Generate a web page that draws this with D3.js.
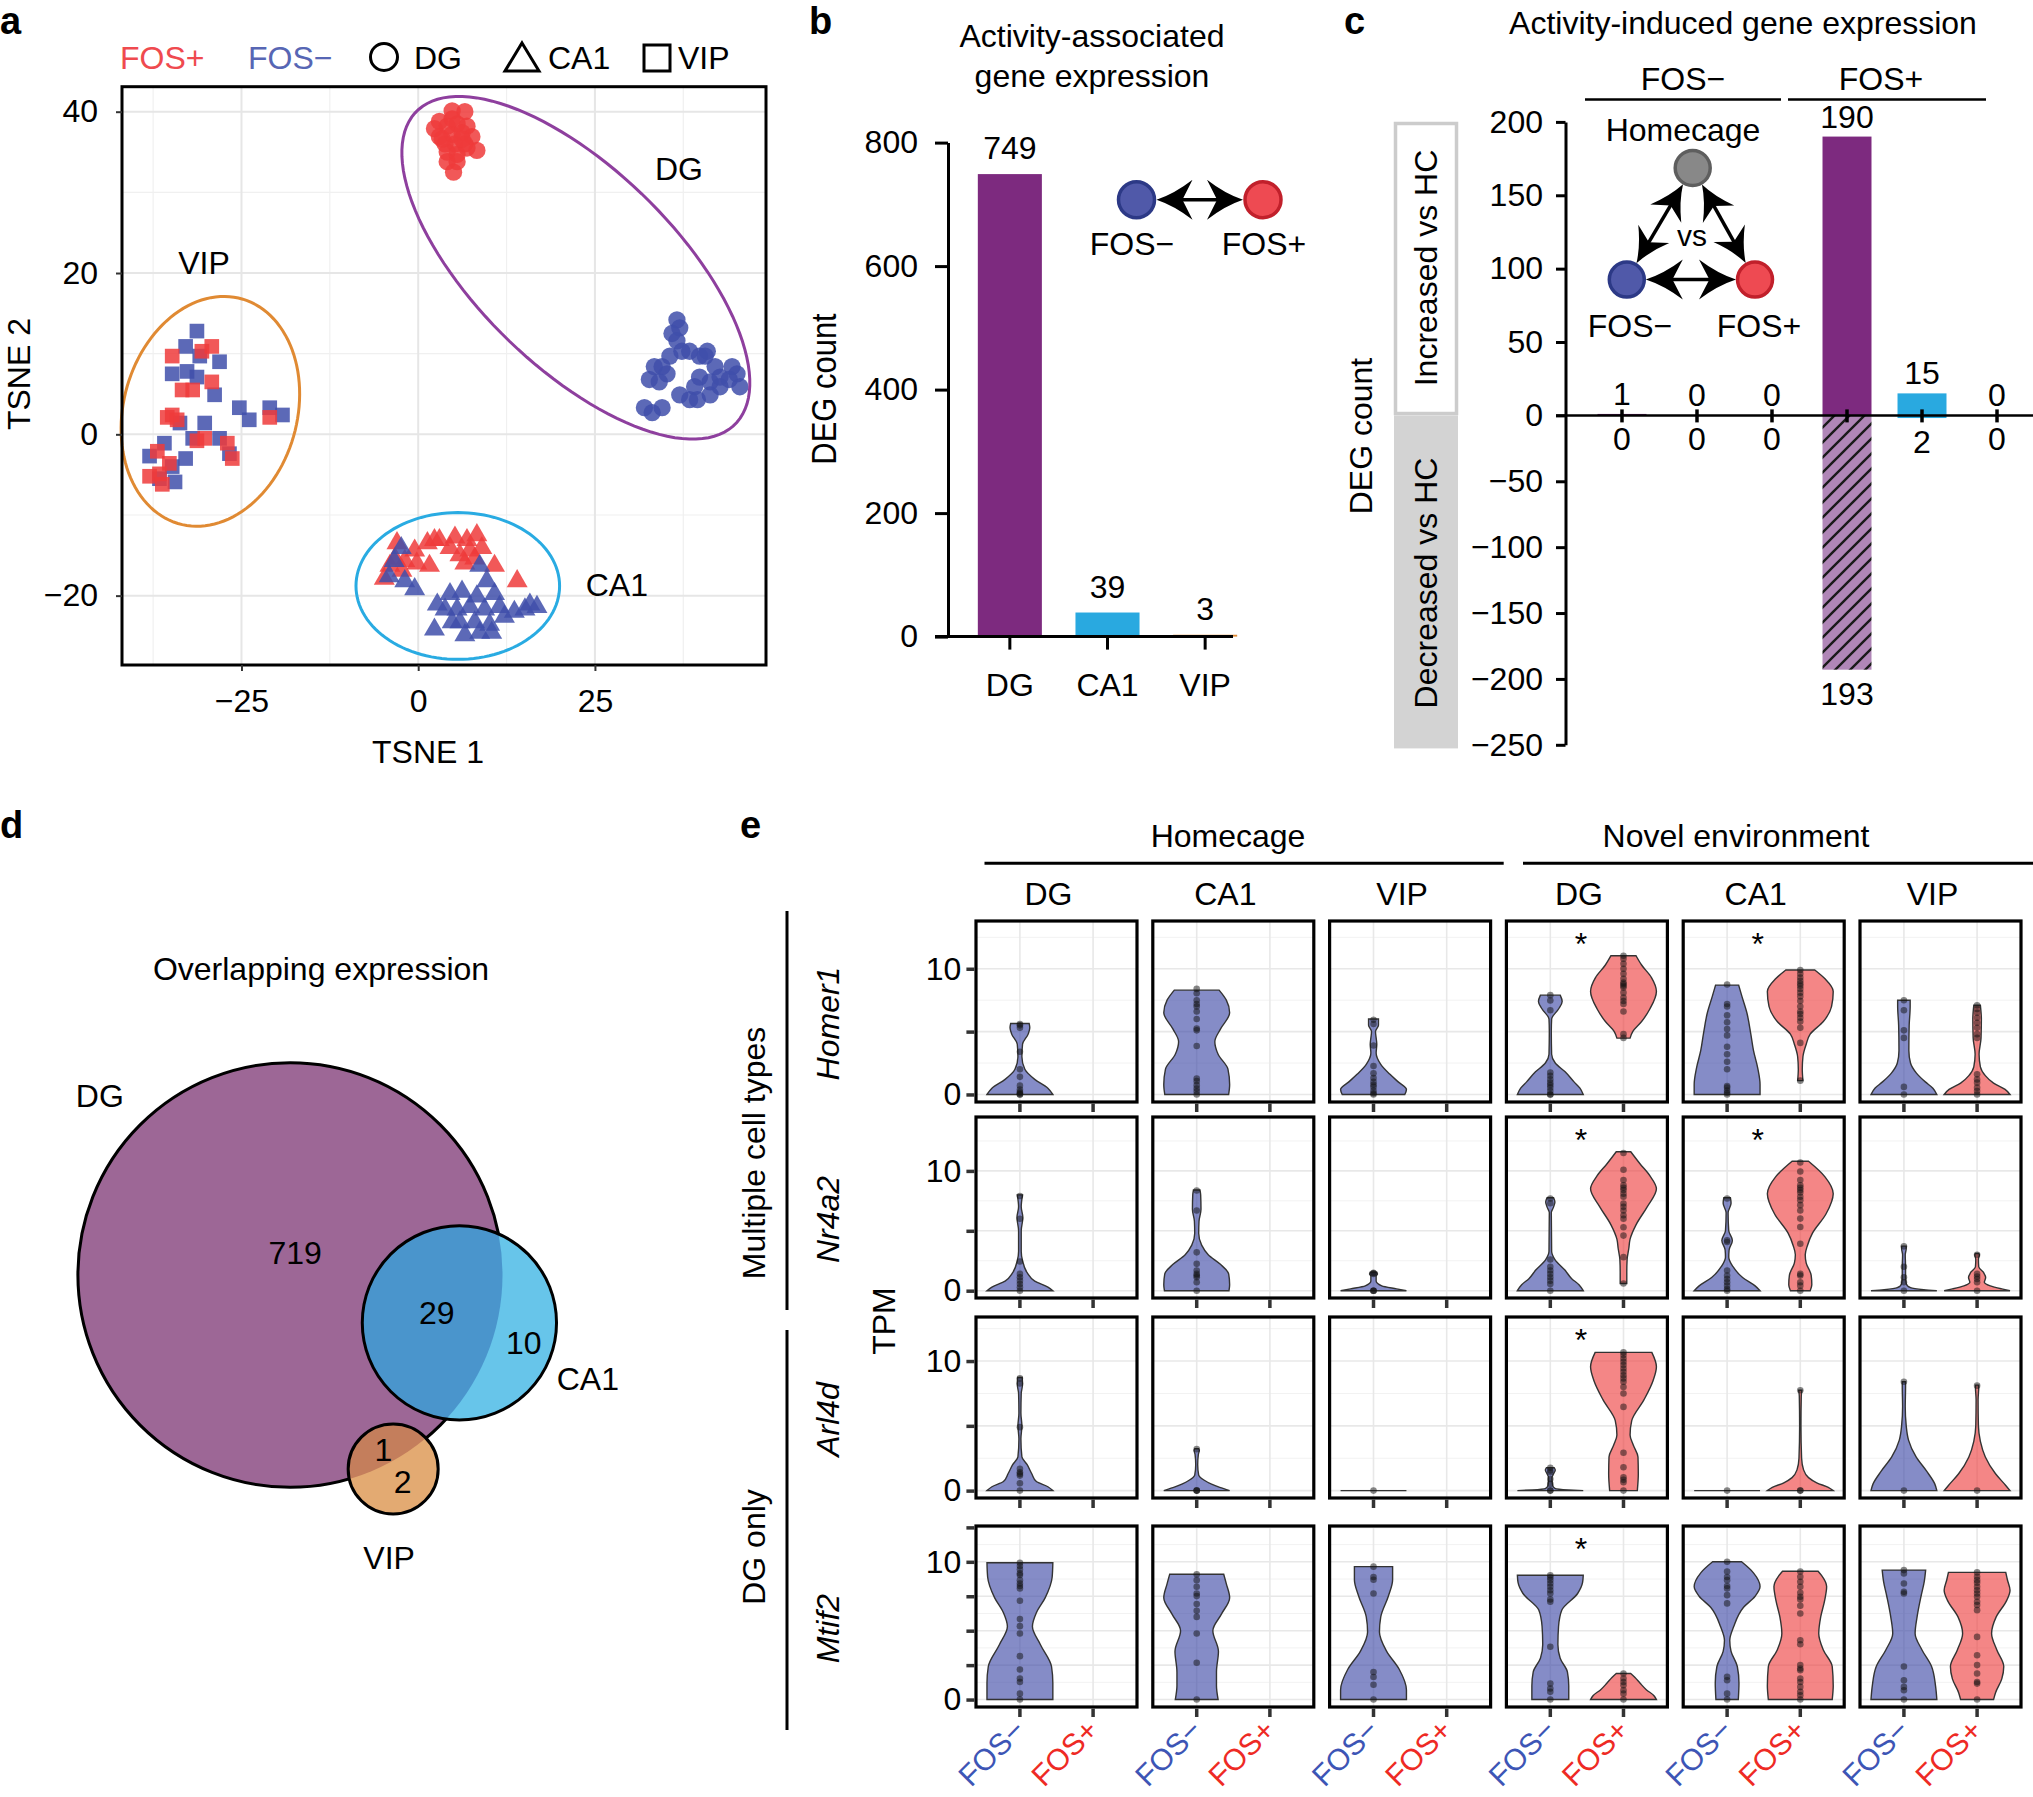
<!DOCTYPE html>
<html>
<head>
<meta charset="UTF-8">
<title>FOS+ / FOS− activity-associated expression</title>
<style>
  body { margin: 0; background: #ffffff; }
  svg { display: block; }
</style>
</head>
<body>
<svg></svg>
<script src="https://d3js.org/d3.v7.min.js"></script>
<script>

// ---------- data ----------
// a: tSNE embedding, [TSNE 1, TSNE 2]
const tsneTicksX = [-25, 0, 25];
const tsneTicksY = [-20, 0, 20, 40];
const dgFosPos = [[3.0,38.8],[4.8,40.1],[6.6,40.0],[2.3,37.9],[4.1,38.2],[5.5,38.5],[6.9,38.2],[3.0,36.9],[4.8,37.2],[6.2,37.4],[7.6,36.9],[3.8,36.0],[5.2,36.0],[6.6,36.0],[8.3,35.2],[4.1,35.0],[5.5,34.7],[6.9,35.5],[4.1,33.8],[5.5,33.8],[5.0,32.5],[3.4,36.6],[6.2,36.6],[4.8,39.1]];
const dgFosNeg = [[36.6,14.2],[37.0,13.2],[35.9,12.5],[36.6,11.6],[37.3,10.3],[38.4,10.3],[39.8,9.7],[40.9,10.3],[42.0,8.4],[42.7,7.1],[41.3,6.5],[39.8,7.1],[39.1,5.9],[37.0,4.9],[38.4,4.3],[41.3,4.9],[42.7,5.9],[44.4,8.4],[45.1,7.5],[45.5,5.9],[44.0,6.8],[32.7,6.8],[33.4,8.4],[34.5,8.4],[35.6,9.7],[35.2,7.5],[34.1,6.5],[32.0,3.3],[33.1,2.7],[34.5,3.3],[39.5,4.3],[40.6,9.7]];
const ca1FosPos = [[-3.0,-13.5],[-0.5,-14.4],[1.3,-13.5],[3.0,-13.1],[5.2,-12.8],[6.9,-13.1],[8.3,-12.5],[9.0,-14.1],[7.3,-14.4],[5.9,-15.0],[4.5,-14.1],[1.6,-16.3],[-0.2,-16.0],[-1.9,-15.7],[-3.3,-15.4],[-4.8,-17.9],[-2.3,-16.9],[6.6,-16.0],[10.8,-16.3],[14.0,-18.2],[8.0,-15.4],[2.3,-13.1],[-4.0,-16.3]];
const ca1FosNeg = [[-2.4,-14.1],[-3.4,-15.7],[-4.1,-17.6],[-1.9,-18.2],[-0.5,-19.2],[2.7,-21.1],[4.5,-19.8],[6.2,-19.5],[8.3,-20.1],[9.7,-18.2],[10.8,-19.8],[11.5,-21.4],[9.4,-21.7],[7.3,-21.4],[5.5,-21.7],[3.8,-21.7],[5.9,-23.3],[8.0,-23.3],[10.1,-23.6],[12.2,-22.6],[13.6,-22.0],[15.8,-21.1],[16.8,-21.4],[2.3,-24.2],[6.6,-24.9],[8.7,-24.6],[10.4,-24.6],[4.8,-23.3],[8.7,-16.3],[15.1,-21.7]];
const vipFosNeg = [[-31.3,12.8],[-32.9,10.9],[-30.9,9.7],[-34.8,7.5],[-32.7,7.8],[-28.1,9.0],[-31.3,7.1],[-28.8,4.9],[-25.3,3.3],[-23.9,1.8],[-21.0,3.3],[-19.2,2.4],[-30.2,1.4],[-28.1,-0.5],[-33.7,1.4],[-31.9,-0.5],[-35.9,-1.1],[-38.0,-2.7],[-34.8,-4.0],[-32.9,-3.0],[-34.4,-5.9],[-36.6,-5.5],[-26.7,-2.4]];
const vipFosPos = [[-34.8,9.7],[-29.2,10.9],[-30.6,10.3],[-31.9,5.5],[-33.4,5.5],[-34.8,2.4],[-35.5,2.1],[-29.2,6.5],[-34.1,1.8],[-21.0,2.1],[-31.3,-0.8],[-27.0,-1.1],[-26.3,-3.0],[-36.9,-2.1],[-36.6,-4.9],[-35.2,-3.6],[-38.0,-5.2],[-36.2,-6.2],[-30.2,-0.5]];
// cluster ellipses: centre, semi-axes (data units), angle of first axis (deg)
const ellipseNames = ["DG", "VIP", "CA1"];
const ellipseCentre = [[22.3, 20.65], [-29.4, 2.85], [5.6, -18.8]];
const ellipseAxes = [[29.8, 13.0], [14.7, 12.1], [14.4, 9.1]];
const ellipseAngle = [-38.8, 64.3, 0];
const ellipseLabelAt = [[33.5, 31.5], [-30.3, 19.9], [23.7, -20.1]];

// b: activity-associated DEG counts
const cellTypes = ["DG", "CA1", "VIP"];
const assocCounts = [749, 39, 3];
const assocTicks = [0, 200, 400, 600, 800];

// c: activity-induced DEG counts vs homecage
const inducedGroups = ["FOS−", "FOS+"];
const inducedKeys = ["FOS−DG", "FOS−CA1", "FOS−VIP", "FOS+DG", "FOS+CA1", "FOS+VIP"];
const inducedUp = [1, 0, 0, 190, 15, 0];
const inducedDown = [0, 0, 0, 193, 2, 0];
const inducedTicks = [-250, -200, -150, -100, -50, 0, 50, 100, 150, 200];

// d: overlap of DEG sets
const vennSets = ["DG", "CA1", "VIP"];
const vennCentre = [[0, 0], [0.797, 0.2255], [0.485, 0.915]];
const vennRadius = [1, 0.4575, 0.212];
const vennRegionCounts = [719, 29, 10, 1, 2];
const vennRegionAt = [[0.023, -0.108], [0.69, 0.175], [1.10, 0.318], [0.439, 0.821], [0.53, 0.976]];
const vennSetLabelAt = [[-0.897, -0.849], [1.402, 0.49], [0.466, 1.334]];

// e: TPM violins. panels: HC DG, HC CA1, HC VIP, NE DG, NE CA1, NE VIP; each [FOS−, FOS+]
// outline = [TPM, half-width relative to max]
const genes = ["Homer1", "Nr4a2", "Arl4d", "Mtif2"];
const conditions = ["Homecage", "Novel environment"];
const fosGroups = ["FOS−", "FOS+"];
const homer1Violins = [
  [[[0,1.0],[0.5,0.85],[1.2,0.45],[2,0.15],[3,0.06],[4,0.08],[4.8,0.25],[5.3,0.3],[5.65,0.28]], null],
  [[[0,0.97],[0.8,1.0],[2.0,0.95],[3.2,0.65],[4.2,0.55],[5.2,0.72],[6.5,1.0],[7.5,0.9],[8.3,0.68]], null],
  [[[0,0.95],[0.4,1.0],[1.0,0.75],[1.6,0.5],[2.4,0.22],[3.3,0.08],[4.0,0.1],[4.5,0.08],[5.0,0.06],[5.5,0.15],[6.0,0.15]], null],
  [[[0,1.0],[0.5,0.9],[1.0,0.72],[1.8,0.45],[2.5,0.15],[3.2,0.04],[5.0,0.03],[6.0,0.04],[6.8,0.25],[7.4,0.36],[7.9,0.3]],
   [[4.48,0.2],[5.0,0.28],[5.8,0.55],[6.8,0.8],[8.2,1.0],[9.3,0.85],[10.3,0.55],[11.04,0.38]]],
  [[[0,1.0],[0.8,1.0],[2.1,0.93],[3.5,0.8],[4.8,0.72],[6.5,0.6],[7.8,0.45],[8.7,0.35]],
   [[1.1,0.08],[2.0,0.06],[3.0,0.08],[4.0,0.18],[4.8,0.3],[5.8,0.7],[7.0,0.95],[8.2,1.0],[9.2,0.75],[9.9,0.44]]],
  [[[0,1.0],[0.5,0.88],[1.0,0.65],[1.7,0.38],[2.5,0.2],[3.5,0.15],[5.5,0.16],[7.0,0.19],[7.5,0.19]],
   [[0,1.0],[0.4,0.85],[0.9,0.5],[1.5,0.25],[2.2,0.1],[3.2,0.06],[4.5,0.12],[6.0,0.13],[7.1,0.1]]]
];
const homer1Dots = [
  [[5.6,5.5,5.3,3.4,2.0,1.4,0.7,0.4,0.2,0.1,0,0], []],
  [[8.4,8.05,7.5,7.2,7.0,6.6,6.0,5.25,5.1,3.86,1.27,1.06,0.74,0.47,0.26,0], []],
  [[5.94,5.6,3.9,2.26,1.68,1.3,1.0,0.77,0.6,0.3,0.1,0], []],
  [[7.9,7.47,6.7,1.75,1.48,1.2,0.94,0.75,0.54,0.27,0,0], [11.04,10.8,10.4,10.0,9.6,9.2,8.9,8.78,8.65,8.5,8.1,7.7,7.44,7.2,6.6,4.8,4.5]],
  [[8.75,7.2,7.0,6.3,5.74,5.2,4.7,3.8,3.2,2.6,2.0,0.67,0.54,0.32,0.13,0], [9.9,9.6,9.3,9.04,8.83,8.65,8.4,8.1,7.8,7.44,7.0,6.6,6.4,6.1,5.8,5.3,4.1,1.1]],
  [[7.5,6.7,5.1,4.5,0.6,0], [7.1,6.8,6.5,6.1,5.7,5.3,4.8,4.5,1.6,1.2,0.94,0.54,0.27,0]]
];
const nr4a2Violins = [
  [[[0,1.0],[0.3,0.85],[0.8,0.45],[1.5,0.22],[2.5,0.08],[3.3,0.04],[5.0,0.04],[6.1,0.09],[7.0,0.04],[8.0,0.08]], null],
  [[[0,0.98],[0.5,1.0],[1.4,0.97],[2.2,0.72],[3.0,0.35],[3.8,0.15],[4.8,0.06],[5.8,0.07],[6.8,0.13],[8.0,0.12],[8.4,0.1]], null],
  [[[0,1.0],[0.15,0.7],[0.4,0.25],[0.8,0.08],[1.2,0.08],[1.4,0.12],[1.55,0.1]], null],
  [[[0,1.0],[0.5,0.87],[1.0,0.65],[1.7,0.45],[2.6,0.14],[3.3,0.04],[6.5,0.03],[7.0,0.1],[7.4,0.14],[7.76,0.1]],
   [[0.6,0.1],[1.5,0.1],[2.6,0.11],[3.5,0.16],[4.3,0.2],[5.5,0.38],[7.0,0.72],[8.5,1.0],[9.6,0.8],[10.6,0.5],[11.6,0.22]]],
  [[[0,1.0],[0.4,0.85],[1.1,0.47],[2.0,0.18],[2.8,0.05],[3.4,0.06],[4.2,0.16],[5.0,0.05],[6.5,0.03],[7.3,0.12],[7.76,0.1]],
   [[0,0.3],[0.5,0.35],[1.3,0.33],[2.3,0.18],[3.0,0.15],[3.8,0.22],[4.8,0.37],[6.4,0.78],[8.1,1.0],[9.5,0.75],[10.8,0.25]]],
  [[[0,1.0],[0.08,0.6],[0.25,0.2],[0.6,0.07],[1.2,0.05],[2.0,0.05],[3.0,0.04],[3.5,0.07],[3.72,0.07]],
   [[0,1.0],[0.15,0.75],[0.4,0.4],[0.7,0.22],[1.1,0.26],[1.5,0.2],[2.0,0.05],[2.6,0.04],[3.0,0.07],[3.1,0.05]]]
];
const nr4a2Dots = [
  [[7.9,6.0,2.44,1.4,1.12,0.84,0.56,0.28,0], []],
  [[8.36,6.7,3.2,2.24,1.68,1.4,1.26,1.12,0.7,0], []],
  [[1.5,1.45,1.4,0,0,0], []],
  [[7.7,7.3,2.6,2.0,1.68,1.4,1.12,0.84,0.56,0], [11.49,10.1,9.24,8.8,8.6,8.4,8.1,7.84,7.28,7.0,6.7,6.3,6.0,5.3,4.6,2.8,0.6]],
  [[7.7,4.2,4.06,1.68,1.26,0.98,0.7,0.42,0.14,0], [10.7,9.95,9.24,8.8,8.6,8.4,8.2,7.84,7.56,7.14,6.7,6.02,5.32,3.92,1.4,1.26,0.7,0.42,0]],
  [[3.7,2.0,1.12,0.7,0], [3.0,1.4,1.18,0.98,0.7,0]]
];
const arl4dViolins = [
  [[[0,1.0],[0.3,0.85],[0.7,0.5],[1.3,0.36],[2.0,0.22],[2.6,0.06],[4.0,0.03],[5.0,0.06],[6.0,0.03],[7.5,0.04],[8.2,0.08],[8.73,0.07]], null],
  [[[0,1.0],[0.25,0.7],[0.5,0.45],[0.8,0.23],[1.2,0.06],[2.0,0.03],[2.8,0.05],[3.1,0.08],[3.23,0.06]], null],
  [[[0,1],[0,1]], null],
  [[[0,1.0],[0.05,0.55],[0.15,0.15],[0.4,0.07],[1.0,0.05],[1.3,0.1],[1.6,0.15],[1.76,0.12]],
   [[0,0.42],[1.3,0.45],[2.6,0.44],[3.5,0.3],[4.3,0.2],[5.4,0.25],[7.0,0.62],[8.5,0.9],[9.56,1.0],[10.67,0.86]]],
  [[[0,1],[0,1]],
   [[0,1.0],[0.25,0.85],[0.6,0.5],[1.0,0.25],[1.6,0.1],[2.5,0.04],[5.0,0.02],[7.3,0.03],[7.75,0.05]]],
  [[[0,1.0],[0.5,0.94],[1.5,0.69],[2.6,0.37],[3.9,0.14],[5.0,0.07],[6.5,0.04],[8.0,0.05],[8.4,0.05]],
   [[0,1.0],[0.4,0.87],[1.3,0.56],[2.6,0.25],[3.8,0.1],[5.0,0.04],[7.0,0.03],[8.0,0.05],[8.14,0.05]]]
];
const arl4dDots = [
  [[8.66,8.27,4.9,1.68,1.42,1.29,1.16,0.57,0], []],
  [[3.2,0,0,0], []],
  [[0], []],
  [[1.76,1.55,1.42,0.9,0.52,0,0], [10.67,10.47,10.2,9.95,9.69,9.43,9.17,8.9,8.66,8.4,8.0,7.5,6.46,2.92,1.8,1.03,0.83,0.65,0]],
  [[0], [7.75,0,0]],
  [[8.4,0], [8.1,0]]
];
const mtif2Violins = [
  [[[0,1.0],[1.2,1.0],[2.4,0.96],[4.0,0.62],[5.3,0.38],[6.3,0.5],[7.4,0.77],[8.9,0.98],[9.93,1.0]], null],
  [[[0,0.65],[1.0,0.6],[2.0,0.6],[3.5,0.66],[5.0,0.49],[6.2,0.75],[7.4,1.0],[8.4,0.9],[9.1,0.82]], null],
  [[[0,1.0],[0.7,1.0],[2.2,0.78],[3.5,0.4],[4.9,0.18],[6.0,0.22],[7.5,0.45],[8.7,0.58],[9.65,0.58]], null],
  [[[0,0.56],[1.0,0.56],[2.0,0.52],[3.0,0.3],[4.0,0.23],[5.3,0.25],[6.5,0.35],[7.7,0.83],[8.5,0.98],[9.03,1.0]],
   [[0,1.0],[0.3,0.92],[0.7,0.7],[1.2,0.5],[1.6,0.35],[1.89,0.22]]],
  [[[0,0.34],[1.2,0.36],[2.4,0.31],[3.5,0.12],[4.3,0.08],[5.3,0.2],[6.7,0.5],[7.5,0.85],[8.2,1.0],[9.2,0.8],[10.0,0.44]],
   [[0,0.97],[1.0,1.0],[2.4,0.97],[3.6,0.7],[4.8,0.56],[6.0,0.62],[7.2,0.74],[8.2,0.8],[9.0,0.65],[9.32,0.54]]],
  [[[0,1.0],[1.0,0.96],[2.4,0.84],[3.6,0.55],[4.8,0.34],[6.0,0.4],[7.5,0.52],[8.6,0.62],[9.4,0.66]],
   [[0,0.5],[0.5,0.56],[1.5,0.75],[2.4,0.81],[3.6,0.6],[4.8,0.44],[6.0,0.58],[7.2,0.9],[7.94,1.0],[8.7,0.92],[9.23,0.87]]]
];
const mtif2Dots = [
  [[9.93,9.69,9.45,9.16,9.04,8.67,8.43,8.24,8.07,7.17,5.84,5.33,4.8,3.15,2.18,1.53,1.28,0.43,0], []],
  [[9.1,8.67,8.19,7.7,7.51,6.93,6.44,6.0,4.8,2.67,0], []],
  [[9.65,8.9,8.7,7.7,2.0,1.64,1.07,0], []],
  [[9.03,8.86,8.67,8.43,8.19,7.94,7.7,7.27,7.1,3.83,1.16,0.8,0.56,0], [1.89,1.53,1.28,1.04,0.68,0.43,0]],
  [[10.0,9.3,8.9,8.67,8.24,8.07,7.58,6.98,1.65,1.4,0.43,0], [9.3,8.91,8.55,8.19,7.75,7.46,7.27,6.81,6.25,4.31,4.02,2.5,2.25,2.13,1.53,1.28,0.92,0.56,0.31,0]],
  [[9.4,9.16,8.43,7.82,7.7,2.4,1.4,0.92,0.68,0], [9.23,8.91,8.67,8.48,8.19,7.94,7.7,7.46,7.1,6.86,6.49,4.55,3.22,2.5,1.89,1.28,1.16,0]]
];
const tpmDomains = [[-0.6, 13.8], [-0.61, 14.5], [-0.57, 13.4], [-0.54, 12.6]];
const tpmTicks = [[0, 5, 10], [0, 5, 10], [0, 5, 10], [0, 2.5, 5, 7.5, 10, 12.5]];
const tpmLabelled = [0, 10];
const signifPanels = [[3, 4], [3, 4], [3], [3]];

// ---------- setup ----------
const W = 2033, H = 1797;
const FONT = "'Liberation Sans', Arial, Helvetica, sans-serif";
const FS = 32;
const RED = "#ee3b3b", BLUE = "#3f4faa";
const PURPLE = "#7d2a7f", SKY = "#29a9e0";

const svg = d3.select("svg")
    .attr("width", W).attr("height", H)
    .attr("viewBox", "0 0 " + W + " " + H)
    .style("font-family", FONT);
svg.append("rect").attr("width", W).attr("height", H).attr("fill", "#fff");

function txt(g, x, y, s, opts) {
  opts = opts || {};
  const t = g.append("text").attr("x", x).attr("y", y).text(s)
    .attr("font-size", opts.size || FS)
    .attr("text-anchor", opts.anchor || "start")
    .attr("fill", opts.fill || "#000");
  if (opts.weight) t.attr("font-weight", opts.weight);
  if (opts.style) t.attr("font-style", opts.style);
  if (opts.dy) t.attr("dy", opts.dy);
  return t;
}
function vtxt(g, x, y, s, opts) {
  opts = opts || {};
  const sx = opts.squeeze || 1;
  const gg = g.append("g").attr("transform", "translate(" + x + "," + y + ") rotate(-90) scale(" + sx + ",1)");
  txt(gg, 0, 0, s, Object.assign({anchor: "middle"}, opts));
}

// panel letters
[["a", 0, 34], ["b", 809, 34], ["c", 1344, 34], ["d", 0, 838], ["e", 740, 838]].forEach(l =>
  txt(svg, l[1], l[2], l[0], {size: 38, weight: "bold"}));

// arrows for the little schematic insets
function arrowHead(g, tip, ux, uy, L, Wd) {
  const px = -uy, py = ux;
  const bx = tip[0] - ux * L, by = tip[1] - uy * L;
  const nx = tip[0] - ux * L * 0.72, ny = tip[1] - uy * L * 0.72;
  const p = d3.path();
  p.moveTo(tip[0], tip[1]);
  p.quadraticCurveTo(tip[0] - ux * L * 0.5 + px * Wd * 0.3, tip[1] - uy * L * 0.5 + py * Wd * 0.3, bx + px * Wd, by + py * Wd);
  p.lineTo(nx, ny);
  p.lineTo(bx - px * Wd, by - py * Wd);
  p.quadraticCurveTo(tip[0] - ux * L * 0.5 - px * Wd * 0.3, tip[1] - uy * L * 0.5 - py * Wd * 0.3, tip[0], tip[1]);
  p.closePath();
  g.append("path").attr("d", p.toString()).attr("fill", "#000");
}
function doubleArrow(g, a, b, r, L, Wd) {
  const dx = b[0] - a[0], dy = b[1] - a[1], d = Math.hypot(dx, dy), ux = dx / d, uy = dy / d;
  const t1 = [a[0] + ux * r, a[1] + uy * r], t2 = [b[0] - ux * r, b[1] - uy * r];
  g.append("line")
    .attr("x1", t1[0] + ux * L * 0.6).attr("y1", t1[1] + uy * L * 0.6)
    .attr("x2", t2[0] - ux * L * 0.6).attr("y2", t2[1] - uy * L * 0.6)
    .attr("stroke", "#000").attr("stroke-width", 3.5);
  arrowHead(g, t2, ux, uy, L, Wd);
  arrowHead(g, t1, -ux, -uy, L, Wd);
}
function node(g, c, r, fill, stroke) {
  g.append("circle").attr("cx", c[0]).attr("cy", c[1]).attr("r", r)
    .attr("fill", fill).attr("stroke", stroke).attr("stroke-width", 3.5);
}

// ---------- a: tSNE ----------
const ga = svg.append("g");
const xA = d3.scaleLinear().domain([-41.9, 49.2]).range([122, 766]);
const yA = d3.scaleLinear().domain([-28.6, 43.1]).range([665, 86.7]);

const minorX = tsneTicksX.map(v => v - 12.5).concat([tsneTicksX[tsneTicksX.length - 1] + 12.5]);
const minorY = tsneTicksY.map(v => v - 10).filter(v => v > yA.domain()[0]);
ga.selectAll(".gxm").data(minorX).enter().append("line")
  .attr("x1", d => xA(d)).attr("x2", d => xA(d)).attr("y1", yA.range()[0]).attr("y2", yA.range()[1])
  .attr("stroke", "#f0f0f0").attr("stroke-width", 1.2);
ga.selectAll(".gym").data(minorY).enter().append("line")
  .attr("y1", d => yA(d)).attr("y2", d => yA(d)).attr("x1", xA.range()[0]).attr("x2", xA.range()[1])
  .attr("stroke", "#f0f0f0").attr("stroke-width", 1.2);
ga.selectAll(".gx").data(tsneTicksX).enter().append("line")
  .attr("x1", d => xA(d)).attr("x2", d => xA(d)).attr("y1", yA.range()[0]).attr("y2", yA.range()[1])
  .attr("stroke", "#e6e6e6").attr("stroke-width", 2);
ga.selectAll(".gy").data(tsneTicksY).enter().append("line")
  .attr("y1", d => yA(d)).attr("y2", d => yA(d)).attr("x1", xA.range()[0]).attr("x2", xA.range()[1])
  .attr("stroke", "#e6e6e6").attr("stroke-width", 2);

const symCircle = d3.symbol().type(d3.symbolCircle).size(235);
const symTri = d3.symbol().type(d3.symbolTriangle).size(190);
const symSq = d3.symbol().type(d3.symbolSquare).size(215);
function scatter(pts, sym, col) {
  ga.append("g").selectAll("path").data(pts).enter().append("path")
    .attr("d", sym)
    .attr("transform", d => "translate(" + xA(d[0]) + "," + yA(d[1]) + ")")
    .attr("fill", col).attr("fill-opacity", 0.85);
}
scatter(dgFosPos, symCircle, RED);
scatter(dgFosNeg, symCircle, BLUE);
scatter(ca1FosPos, symTri, RED);
scatter(ca1FosNeg, symTri, BLUE);
scatter(vipFosNeg, symSq, BLUE);
scatter(vipFosPos, symSq, RED);

const ellipseColours = ["#8e3f9e", "#e08a33", "#29abe2"];
ellipseNames.forEach((n, i) => {
  const [cx, cy] = ellipseCentre[i], [ea, eb] = ellipseAxes[i];
  const ang = ellipseAngle[i] * Math.PI / 180;
  const pts = d3.range(0, 361, 3).map(t => {
    const r = t * Math.PI / 180;
    return [cx + ea * Math.cos(r) * Math.cos(ang) - eb * Math.sin(r) * Math.sin(ang),
            cy + ea * Math.cos(r) * Math.sin(ang) + eb * Math.sin(r) * Math.cos(ang)];
  });
  ga.append("path").attr("d", d3.line().x(d => xA(d[0])).y(d => yA(d[1]))(pts))
    .attr("fill", "none").attr("stroke", ellipseColours[i]).attr("stroke-width", 3);
  txt(ga, xA(ellipseLabelAt[i][0]), yA(ellipseLabelAt[i][1]), n, {anchor: n === "VIP" ? "middle" : "start"});
});

ga.append("rect").attr("x", 122).attr("y", 86.7).attr("width", 644).attr("height", 578.3)
  .attr("fill", "none").attr("stroke", "#000").attr("stroke-width", 3);

const axA1 = ga.append("g").attr("transform", "translate(0,665)")
  .call(d3.axisBottom(xA).tickValues(tsneTicksX).tickSize(6).tickPadding(18).tickSizeOuter(0));
const axA2 = ga.append("g").attr("transform", "translate(122,0)")
  .call(d3.axisLeft(yA).tickValues(tsneTicksY).tickSize(6).tickPadding(18).tickSizeOuter(0));
[axA1, axA2].forEach(ax => {
  ax.select(".domain").remove();
  ax.selectAll("line").attr("stroke", "#333").attr("stroke-width", 2);
  ax.selectAll("text").attr("font-size", FS).attr("font-family", FONT).attr("fill", "#000");
});
txt(ga, 428, 763, "TSNE 1", {anchor: "middle"});
vtxt(ga, 30, 374, "TSNE 2");

// legend
txt(ga, 120, 69, "FOS+", {fill: "#ef4a4f"});
txt(ga, 248, 69, "FOS−", {fill: "#5766b4"});
ga.append("circle").attr("cx", 384).attr("cy", 57).attr("r", 13.5).attr("fill", "none").attr("stroke", "#000").attr("stroke-width", 3);
txt(ga, 414, 69, "DG");
ga.append("path").attr("d", "M522,43L539,71L505,71Z").attr("fill", "none").attr("stroke", "#000").attr("stroke-width", 3).attr("stroke-linejoin", "miter");
txt(ga, 548, 69, "CA1");
ga.append("rect").attr("x", 644).attr("y", 45).attr("width", 26).attr("height", 26).attr("fill", "none").attr("stroke", "#000").attr("stroke-width", 3);
txt(ga, 678, 69, "VIP");

// ---------- b: activity-associated ----------
const gb = svg.append("g");
const yB = d3.scaleLinear().domain([0, 800]).range([636.6, 142.6]);
const xB = d3.scaleBand().domain(cellTypes).range([929, 1286]).paddingInner(0.344).paddingOuter(0.5);
const bColours = {DG: PURPLE, CA1: SKY, VIP: "#e08a33"};

txt(gb, 1092, 47, "Activity-associated", {anchor: "middle"});
txt(gb, 1092, 87, "gene expression", {anchor: "middle"});

gb.selectAll(".bar").data(cellTypes).enter().append("rect")
  .attr("x", d => xB(d)).attr("width", xB.bandwidth())
  .attr("y", (d, i) => yB(assocCounts[i]))
  .attr("height", (d, i) => yB(0) - yB(assocCounts[i]))
  .attr("fill", d => bColours[d]);
gb.selectAll(".val").data(cellTypes).enter().append("text")
  .attr("x", d => xB(d) + xB.bandwidth() / 2)
  .attr("y", (d, i) => yB(assocCounts[i]) - 15)
  .attr("text-anchor", "middle").attr("font-size", FS)
  .text((d, i) => assocCounts[i]);

const axB = gb.append("g").attr("transform", "translate(948,0)")
  .call(d3.axisLeft(yB).tickValues(assocTicks).tickSize(13).tickPadding(17).tickSizeOuter(0));
axB.select(".domain").attr("stroke", "#000").attr("stroke-width", 3);
axB.selectAll("line").attr("stroke", "#000").attr("stroke-width", 3);
axB.selectAll("text").attr("font-size", FS).attr("font-family", FONT).attr("fill", "#000");
gb.append("line").attr("x1", 935).attr("x2", 1233).attr("y1", yB(0)).attr("y2", yB(0))
  .attr("stroke", "#000").attr("stroke-width", 3);
const axBx = gb.append("g").attr("transform", "translate(0," + yB(0) + ")")
  .call(d3.axisBottom(xB).tickSize(13).tickPadding(24).tickSizeOuter(0));
axBx.select(".domain").remove();
axBx.selectAll("line").attr("stroke", "#000").attr("stroke-width", 3);
axBx.selectAll("text").attr("font-size", FS).attr("font-family", FONT).attr("fill", "#000");
vtxt(gb, 836, 389, "DEG count", {size: 36, squeeze: 0.86});

// inset: FOS− <-> FOS+
const bNeg = [1136.5, 199.7], bPos = [1263, 199.7];
doubleArrow(gb, bNeg, bPos, 20, 36, 20);
node(gb, bNeg, 18, "#5059a9", "#2c3986");
node(gb, bPos, 18, "#ee4a52", "#c1202b");
txt(gb, 1132, 255, "FOS−", {anchor: "middle"});
txt(gb, 1264, 255, "FOS+", {anchor: "middle"});

// ---------- c: activity-induced ----------
const gc = svg.append("g");
const yC = d3.scaleLinear().domain([-250, 0, 200]).range([744.8, 415.4, 121.9]);
const xC = d3.scaleBand().domain(inducedKeys).range([1560, 2059]).paddingInner(0.347).paddingOuter(0.5);
const cType = k => k.replace("FOS−", "").replace("FOS+", "");

const defs = svg.append("defs");
const pat = defs.append("pattern").attr("id", "hatch").attr("patternUnits", "userSpaceOnUse")
  .attr("width", 15).attr("height", 15);
pat.append("rect").attr("width", 15).attr("height", 15).attr("fill", "#b086b7");
pat.append("path").attr("d", "M-3,3 L3,-3 M0,15 L15,0 M12,18 L18,12")
  .attr("stroke", "#1a1a1a").attr("stroke-width", 2.4);

txt(gc, 1743, 34, "Activity-induced gene expression", {anchor: "middle"});
txt(gc, 1683, 90, inducedGroups[0], {anchor: "middle"});
txt(gc, 1881, 90, inducedGroups[1], {anchor: "middle"});
gc.append("line").attr("x1", 1585).attr("x2", 1781).attr("y1", 99.5).attr("y2", 99.5).attr("stroke", "#000").attr("stroke-width", 2.5);
gc.append("line").attr("x1", 1788).attr("x2", 1986).attr("y1", 99.5).attr("y2", 99.5).attr("stroke", "#000").attr("stroke-width", 2.5);

// side boxes
gc.append("rect").attr("x", 1395.5).attr("y", 123.5).attr("width", 61).attr("height", 290)
  .attr("fill", "#fff").attr("stroke", "#cccccc").attr("stroke-width", 3.5);
gc.append("rect").attr("x", 1394).attr("y", 415.4).attr("width", 64).attr("height", 333)
  .attr("fill", "#d3d3d3");
vtxt(gc, 1437, 268, "Increased vs HC");
vtxt(gc, 1437, 583, "Decreased vs HC");
vtxt(gc, 1372, 436, "DEG count");

gc.selectAll(".up").data(inducedKeys).enter().append("rect")
  .attr("x", d => xC(d)).attr("width", xC.bandwidth())
  .attr("y", (d, i) => yC(inducedUp[i]))
  .attr("height", (d, i) => yC(0) - yC(inducedUp[i]))
  .attr("fill", d => bColours[cType(d)]);
gc.selectAll(".down").data(inducedKeys).enter().append("rect")
  .attr("x", d => xC(d)).attr("width", xC.bandwidth())
  .attr("y", yC(0))
  .attr("height", (d, i) => yC(-inducedDown[i]) - yC(0))
  .attr("fill", d => cType(d) === "DG" ? "url(#hatch)" : bColours[cType(d)]);

const axC = gc.append("g").attr("transform", "translate(1565.5,0)")
  .call(d3.axisLeft(yC).tickValues(inducedTicks).tickSize(9.5).tickPadding(13).tickSizeOuter(0));
axC.select(".domain").attr("stroke", "#000").attr("stroke-width", 3);
axC.selectAll("line").attr("stroke", "#000").attr("stroke-width", 3);
axC.selectAll("text").attr("font-size", FS).attr("font-family", FONT).attr("fill", "#000");
gc.append("line").attr("x1", 1556).attr("x2", W).attr("y1", yC(0)).attr("y2", yC(0))
  .attr("stroke", "#000").attr("stroke-width", 2.5);
gc.selectAll(".ctick").data(inducedKeys).enter().append("line")
  .attr("x1", d => xC(d) + xC.bandwidth() / 2).attr("x2", d => xC(d) + xC.bandwidth() / 2)
  .attr("y1", yC(0) - 6).attr("y2", yC(0) + 7)
  .attr("stroke", "#000").attr("stroke-width", 3.5);
gc.selectAll(".upv").data(inducedKeys).enter().append("text")
  .attr("x", d => xC(d) + xC.bandwidth() / 2)
  .attr("y", (d, i) => yC(inducedUp[i]) - 9)
  .attr("text-anchor", "middle").attr("font-size", FS)
  .text((d, i) => inducedUp[i]);
gc.selectAll(".downv").data(inducedKeys).enter().append("text")
  .attr("x", d => xC(d) + xC.bandwidth() / 2)
  .attr("y", (d, i) => yC(-inducedDown[i]) + 35)
  .attr("text-anchor", "middle").attr("font-size", FS)
  .text((d, i) => inducedDown[i]);

// inset: homecage vs FOS− vs FOS+
const cHome = [1692.7, 168], cNeg = [1626.8, 279.6], cPos = [1755, 279.6];
txt(gc, 1683, 141, "Homecage", {anchor: "middle"});
doubleArrow(gc, cHome, cNeg, 19, 34, 18);
doubleArrow(gc, cHome, cPos, 19, 34, 18);
doubleArrow(gc, cNeg, cPos, 19, 37, 20);
node(gc, cHome, 17.5, "#888888", "#5e5e5e");
node(gc, cNeg, 17.5, "#5059a9", "#2c3986");
node(gc, cPos, 17.5, "#ee4a52", "#c1202b");
txt(gc, 1692, 246, "vs", {anchor: "middle", size: 30});
txt(gc, 1630, 337, "FOS−", {anchor: "middle"});
txt(gc, 1759, 337, "FOS+", {anchor: "middle"});

// ---------- d: Venn ----------
const gd = svg.append("g");
const xD = d3.scaleLinear().domain([-1, 1]).range([77.9, 502.5]);
const yD = d3.scaleLinear().domain([-1, 1]).range([1063, 1487]);
const rD = r => xD(r) - xD(0);
txt(gd, 321, 980, "Overlapping expression", {anchor: "middle"});

const vennFill = ["#9d6796", "#67c5ea", "#e3aa72"];
const vennOverlapFill = [null, "#4a95cc", "#c47e5c"];
defs.append("clipPath").attr("id", "dgClip").append("circle")
  .attr("cx", xD(vennCentre[0][0])).attr("cy", yD(vennCentre[0][1])).attr("r", rD(vennRadius[0]));
function vennCircle(i) {
  return gd.append("circle").attr("cx", xD(vennCentre[i][0])).attr("cy", yD(vennCentre[i][1])).attr("r", rD(vennRadius[i]));
}
vennCircle(0).attr("fill", vennFill[0]).attr("stroke", "#000").attr("stroke-width", 3);
[1, 2].forEach(i => {
  vennCircle(i).attr("fill", vennFill[i]);
  vennCircle(i).attr("fill", vennOverlapFill[i]).attr("clip-path", "url(#dgClip)");
  vennCircle(i).attr("fill", "none").attr("stroke", "#000").attr("stroke-width", 3);
});
vennRegionCounts.forEach((v, i) =>
  txt(gd, xD(vennRegionAt[i][0]), yD(vennRegionAt[i][1]), v, {anchor: "middle", dy: "0.36em"}));
vennSets.forEach((s, i) =>
  txt(gd, xD(vennSetLabelAt[i][0]), yD(vennSetLabelAt[i][1]), s, {anchor: "middle", dy: "0.36em"}));

// ---------- e: violins ----------
const ge = svg.append("g");
const geneViolins = [homer1Violins, nr4a2Violins, arl4dViolins, mtif2Violins];
const geneDots = [homer1Dots, nr4a2Dots, arl4dDots, mtif2Dots];
const panelCols = d3.range(6);
const colScale = d3.scaleBand().domain(panelCols).range([976, 2021]).paddingInner(0.0894);
const rowTop = [921, 1117, 1317, 1526], rowH = 181;
const violinFill = ["#3a45a5", "#ee3b3b"];

// headers
txt(ge, 1228, 847, conditions[0], {anchor: "middle"});
txt(ge, 1736, 847, conditions[1], {anchor: "middle"});
ge.append("line").attr("x1", 984.5).attr("x2", 1503.7).attr("y1", 863.3).attr("y2", 863.3).attr("stroke", "#000").attr("stroke-width", 3);
ge.append("line").attr("x1", 1523).attr("x2", W).attr("y1", 863.3).attr("y2", 863.3).attr("stroke", "#000").attr("stroke-width", 3);
panelCols.forEach(c =>
  txt(ge, colScale(c) + colScale.bandwidth() / 2 - 8, 905, cellTypes[c % 3], {anchor: "middle"}));

// group brackets
ge.append("line").attr("x1", 787).attr("x2", 787).attr("y1", 911).attr("y2", 1310).attr("stroke", "#000").attr("stroke-width", 3);
ge.append("line").attr("x1", 787).attr("x2", 787).attr("y1", 1330).attr("y2", 1730).attr("stroke", "#000").attr("stroke-width", 3);
vtxt(ge, 765, 1153, "Multiple cell types");
vtxt(ge, 765, 1547, "DG only");
vtxt(ge, 895, 1321, "TPM");

genes.forEach((gene, r) => {
  const yS = d3.scaleLinear().domain(tpmDomains[r]).range([rowTop[r] + rowH, rowTop[r]]);
  const ticks = tpmTicks[r];
  const step = ticks[1] - ticks[0];
  const minors = d3.range(ticks[0] - step / 2, tpmDomains[r][1], step).filter(v => v > tpmDomains[r][0]);
  vtxt(ge, 839, rowTop[r] + rowH / 2 + 12, gene, {style: "italic"});

  panelCols.forEach(c => {
    const x0 = colScale(c), bw = colScale.bandwidth();
    const xs = d3.scalePoint().domain(fosGroups).range([x0, x0 + bw]).padding(0.6);
    const hw = 0.45 * xs.step();
    const pg = ge.append("g");
    pg.selectAll(".mn").data(minors).enter().append("line")
      .attr("x1", x0).attr("x2", x0 + bw).attr("y1", d => yS(d)).attr("y2", d => yS(d))
      .attr("stroke", "#f2f2f2").attr("stroke-width", 1);
    pg.selectAll(".mj").data(ticks).enter().append("line")
      .attr("x1", x0).attr("x2", x0 + bw).attr("y1", d => yS(d)).attr("y2", d => yS(d))
      .attr("stroke", "#e8e8e8").attr("stroke-width", 1.6);
    pg.selectAll(".vx").data(fosGroups).enter().append("line")
      .attr("x1", d => xs(d)).attr("x2", d => xs(d)).attr("y1", rowTop[r]).attr("y2", rowTop[r] + rowH)
      .attr("stroke", "#e8e8e8").attr("stroke-width", 1.6);

    fosGroups.forEach((f, k) => {
      const prof = geneViolins[r][c][k];
      if (!prof) return;
      const flat = prof[0][0] === prof[prof.length - 1][0];
      const area = d3.area()
        .y(d => yS(d[0]))
        .x0(d => xs(f) - d[1] * hw)
        .x1(d => xs(f) + d[1] * hw)
        .curve(flat ? d3.curveLinear : d3.curveMonotoneY);
      pg.append("path").attr("d", area(prof))
        .attr("fill", violinFill[k]).attr("fill-opacity", 0.62)
        .attr("stroke", "#333").attr("stroke-width", 1.4);
      pg.selectAll(null).data(geneDots[r][c][k]).enter().append("circle")
        .attr("cx", xs(f)).attr("cy", d => yS(d)).attr("r", 3.3)
        .attr("fill", "#111").attr("fill-opacity", 0.5);
    });

    signifPanels[r].filter(p => p === c).forEach(() =>
      txt(pg, (xs(fosGroups[0]) + xs(fosGroups[1])) / 2 - 6, rowTop[r] + 34, "*", {anchor: "middle"}));

    pg.append("rect").attr("x", x0).attr("y", rowTop[r]).attr("width", bw).attr("height", rowH)
      .attr("fill", "none").attr("stroke", "#000").attr("stroke-width", 3.2);
    pg.selectAll(".xt").data(fosGroups).enter().append("line")
      .attr("x1", d => xs(d)).attr("x2", d => xs(d))
      .attr("y1", rowTop[r] + rowH + 1.6).attr("y2", rowTop[r] + rowH + 10)
      .attr("stroke", "#333").attr("stroke-width", 3.5);

    if (c === 0) {
      const ax = pg.append("g").attr("transform", "translate(" + (x0 - 1.6) + ",0)")
        .call(d3.axisLeft(yS).tickValues(ticks).tickSize(8).tickPadding(5).tickSizeOuter(0)
          .tickFormat(v => tpmLabelled.includes(v) ? v : ""));
      ax.select(".domain").remove();
      ax.selectAll("line").attr("stroke", "#333").attr("stroke-width", 3.5);
      ax.selectAll("text").attr("font-size", FS).attr("font-family", FONT).attr("fill", "#000");
    }
    if (r === genes.length - 1) {
      fosGroups.forEach((f, k) => {
        const lg = pg.append("g").attr("transform", "translate(" + (xs(f) + 7) + "," + (rowTop[r] + rowH + 25) + ") rotate(-45)");
        txt(lg, 0, 0, f, {anchor: "end", size: 30, fill: k === 0 ? "#3d55b5" : "#ee2a24"});
      });
    }
  });
});

</script>
</body>
</html>
